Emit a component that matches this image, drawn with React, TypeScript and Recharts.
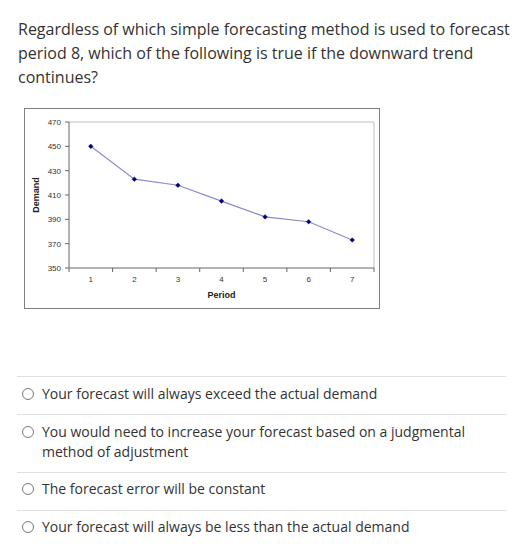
import React from 'react';
import { LineChart, Line, XAxis, YAxis, ReferenceLine } from 'recharts';

const periods = [1, 2, 3, 4, 5, 6, 7];
const demand = [450, 423, 418, 405, 392, 388, 373];
const yTicks = [350, 370, 390, 410, 430, 450, 470];
const xTicks = [0.5, 1, 1.5, 2, 2.5, 3, 3.5, 4, 4.5, 5, 5.5, 6, 6.5, 7, 7.5];

const questionLines = [
  'Regardless of which simple forecasting method is used to forecast',
  'period 8, which of the following is true if the downward trend',
  'continues?',
];

const options: string[][] = [
  ['Your forecast will always exceed the actual demand'],
  ['You would need to increase your forecast based on a judgmental', 'method of adjustment'],
  ['The forecast error will be constant'],
  ['Your forecast will always be less than the actual demand'],
];

const data = periods.map((p, i) => ({ period: p, demand: demand[i] }));

const XTick = (props: any) => {
  const { x, y, payload } = props;
  const v = payload.value;
  if (Number.isInteger(v)) {
    return (
      <text x={x} y={y + 14} textAnchor="middle" fontSize={8} fill="#333" fontFamily="Liberation Sans, Arial, sans-serif">
        {v}
      </text>
    );
  }
  return <line x1={x} x2={x} y1={y} y2={y + 4} stroke="#666" strokeWidth={1} />;
};

const Diamond = (props: any) => {
  const { cx, cy } = props;
  if (cx == null || cy == null) return null;
  const s = 2.3;
  return (
    <polygon
      points={`${cx},${cy - s} ${cx + s},${cy} ${cx},${cy + s} ${cx - s},${cy}`}
      fill="#000080"
      stroke="#000080"
      strokeWidth={0.5}
    />
  );
};

const textFont = '"Open Sans", "Noto Sans", sans-serif';
const optionTops = [384, 422, 479, 517];
const sepYs = [376, 414, 472, 510];

export default function App() {
  return (
    <div style={{ position: 'absolute', left: 0, top: 0, width: 532, height: 557, background: '#fff', fontFamily: textFont, color: '#333' }}>
      <div style={{ position: 'absolute', left: 18, top: 17, fontSize: 16, lineHeight: '24px', whiteSpace: 'nowrap' }}>
        {questionLines.map((l, i) => (
          <div key={i}>{l}</div>
        ))}
      </div>

      <div
        style={{
          position: 'absolute',
          left: 24,
          top: 108,
          width: 356,
          height: 201,
          boxSizing: 'border-box',
          border: '1px solid #808080',
        }}
      >
        <LineChart width={354} height={199} data={data} margin={{ top: 13, right: 5, left: 0, bottom: 0 }}>
          <ReferenceLine y={470} stroke="#d4d4d4" strokeWidth={1.5} ifOverflow="extendDomain" />
          <ReferenceLine x={7.5} stroke="#d4d4d4" strokeWidth={1.5} />
          <XAxis
            dataKey="period"
            type="number"
            domain={[0.5, 7.5]}
            ticks={xTicks}
            interval={0}
            tick={<XTick />}
            tickLine={false}
            tickSize={0}
            tickMargin={0}
            height={40}
            axisLine={{ stroke: '#666' }}
            label={{
              value: 'Period',
              position: 'insideBottom',
              offset: 10,
              style: { fontSize: 9, fontWeight: 'bold', fill: '#222', fontFamily: 'Liberation Sans, Arial, sans-serif' },
            }}
          />
          <YAxis
            type="number"
            domain={[350, 470]}
            ticks={yTicks}
            interval={0}
            width={44}
            tickSize={4}
            tickMargin={4}
            axisLine={{ stroke: '#666' }}
            tickLine={{ stroke: '#666' }}
            tick={{ fontSize: 8, fill: '#333', fontFamily: 'Liberation Sans, Arial, sans-serif' }}
            label={{
              value: 'Demand',
              angle: -90,
              position: 'insideLeft',
              offset: 11,
              style: { textAnchor: 'middle', fontSize: 9, fontWeight: 'bold', fill: '#222', fontFamily: 'Liberation Sans, Arial, sans-serif' },
            }}
          />
          <Line
            type="linear"
            dataKey="demand"
            stroke="#8a8ac8"
            strokeWidth={1.2}
            dot={<Diamond />}
            activeDot={false}
            isAnimationActive={false}
          />
        </LineChart>
      </div>

      {sepYs.map((y, i) => (
        <div key={i} style={{ position: 'absolute', left: 17, top: y, width: 489, height: 1, background: '#e0e0e0' }} />
      ))}

      {options.map((lines, i) => (
        <div key={i} style={{ position: 'absolute', left: 0, top: optionTops[i] }}>
          <div
            style={{
              position: 'absolute',
              left: 22,
              top: 4,
              width: 12,
              height: 12,
              boxSizing: 'border-box',
              borderRadius: '50%',
              border: '1px solid #777',
            }}
          />
          <div style={{ position: 'absolute', left: 42, top: 0, fontSize: 14, lineHeight: '20px', whiteSpace: 'nowrap' }}>
            {lines.map((l, j) => (
              <div key={j}>{l}</div>
            ))}
          </div>
        </div>
      ))}
    </div>
  );
}
